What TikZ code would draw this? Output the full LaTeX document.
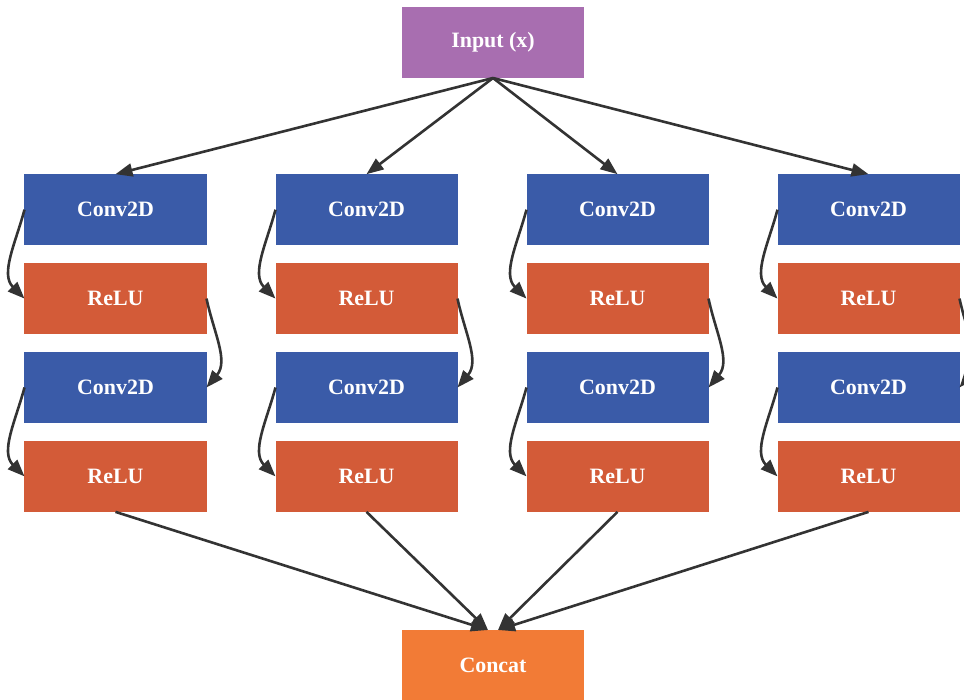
\documentclass[tikz,border=0pt]{standalone}
\usepackage{fontspec}
\setmainfont{Liberation Serif}
\usetikzlibrary{arrows.meta}

\definecolor{inputpurple}{HTML}{A86EB0}
\definecolor{convblue}{HTML}{3A5BA8}
\definecolor{relured}{HTML}{D35B38}
\definecolor{concatorange}{HTML}{F27B36}
\definecolor{linkgray}{HTML}{333333}

\begin{document}
\begin{tikzpicture}[x=1bp,y=1bp,
  box/.style={minimum width=182bp, minimum height=71bp, inner sep=0pt,
    outer sep=0pt, text=white, font=\fontsize{22}{26}\selectfont\bfseries},
  inbox/.style={box, fill=inputpurple},
  convbox/.style={box, fill=convblue},
  relubox/.style={box, fill=relured},
  catbox/.style={box, fill=concatorange},
  link/.style={draw=linkgray, line width=2.6bp,
    -{Triangle[length=17bp,width=13bp]}},
]
\useasboundingbox (0,0) rectangle (964,700);
\clip (0,0) rectangle (964,700);

% input and output blocks
\node[inbox] (input) at (493,657.5) {Input (x)};
\node[catbox] (concat) at (493,34.5) {Concat};

% four parallel Conv2D/ReLU branches
\foreach \i/\x/\dx in {1/115.5/-5, 2/366.5/-5, 3/617.5/5, 4/868.5/5} {
  \node[convbox] (convA\i) at (\x,490.3) {Conv2D};
  \node[relubox] (reluA\i) at (\x,401.4) {ReLU};
  \node[convbox] (convB\i) at (\x,312.5) {Conv2D};
  \node[relubox] (reluB\i) at (\x,223.6) {ReLU};

  \draw[link] (input.south) -- (convA\i.north);
  \draw[link] (convA\i.west) to[out=-105,in=135] (reluA\i.west);
  \draw[link] (reluA\i.east) to[out=-78,in=50] (convB\i.east);
  \draw[link] (convB\i.west) to[out=-105,in=135] (reluB\i.west);
  \draw[link] (reluB\i.south) -- ([xshift=\dx bp]concat.north);
}
\end{tikzpicture}
\end{document}
